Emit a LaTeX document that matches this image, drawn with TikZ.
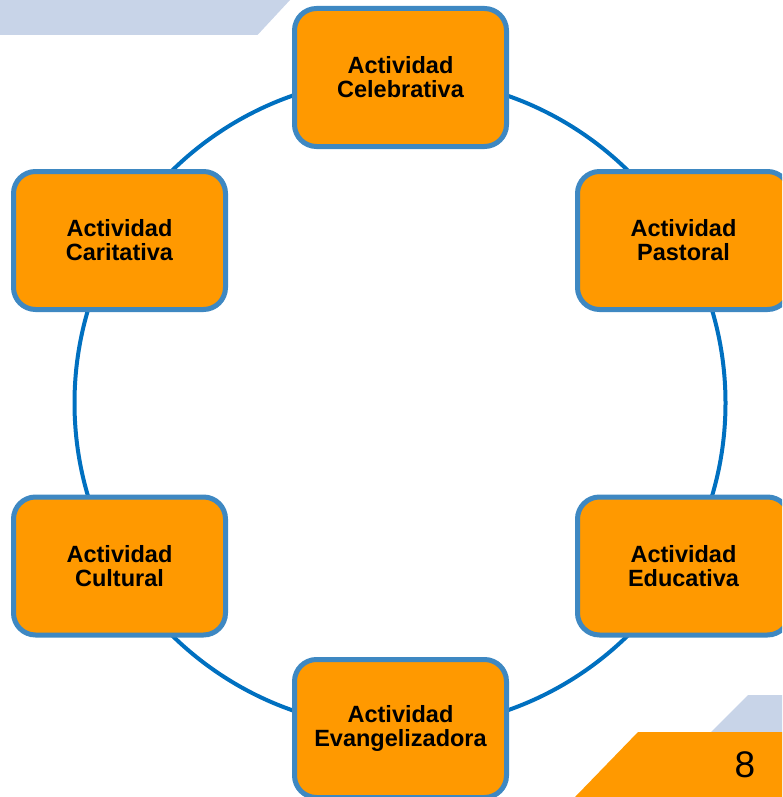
\documentclass[tikz,border=0pt]{standalone}
\usepackage{fontspec}
\setmainfont{Liberation Sans}
\definecolor{bandblue}{RGB}{200,212,232}
\definecolor{ringblue}{RGB}{0,112,192}
\definecolor{boxedge}{RGB}{62,136,194}
\definecolor{boxfill}{RGB}{255,153,0}
\definecolor{tabfill}{RGB}{255,153,0}
\tikzset{
  actbox/.style={draw=boxedge, line width=5pt, fill=boxfill, rounded corners=22pt,
    minimum width=212pt, minimum height=138pt, align=center,
    font=\fontsize{23.5}{24}\selectfont\bfseries, text=black, inner sep=0pt},
  ring/.style={draw=ringblue, line width=4pt}
}
\begin{document}
\begin{tikzpicture}[x=1pt,y=-1pt]
\useasboundingbox (0,0) rectangle (782,797);
\clip (0,0) rectangle (782,797);
% decorative bands
\fill[bandblue] (0,0) -- (290,0) -- (257.5,35) -- (0,35) -- cycle;
\fill[bandblue] (748,695) -- (782,695) -- (782,797) -- (646,797) -- cycle;
\fill[tabfill] (638,732) -- (782,732) -- (782,797) -- (575,797) -- cycle;
\node[anchor=base, font=\fontsize{37}{40}\selectfont, text=black] (pagenum) at (745,777) {8};
% ring
\coordinate (ctr) at (400,403);
\draw[ring] (ctr) circle (325.5pt);
% activity boxes
\node[actbox] (celeb) at (400.5,77.5) {Actividad\\Celebrativa};
\node[actbox] (past) at (683.5,240.5) {Actividad\\Pastoral};
\node[actbox] (educ) at (683.5,566) {Actividad\\Educativa};
\node[actbox] (evang) at (400.5,728.5) {Actividad\\Evangelizadora};
\node[actbox] (cult) at (119.5,566) {Actividad\\Cultural};
\node[actbox] (carit) at (119.5,240.5) {Actividad\\Caritativa};
\end{tikzpicture}
\end{document}
